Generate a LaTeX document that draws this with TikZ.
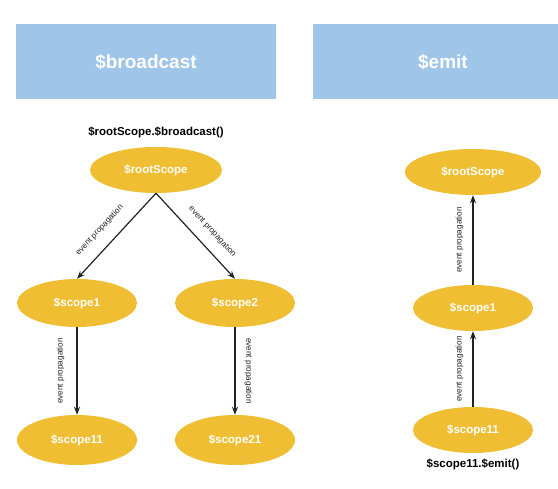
\documentclass[tikz,border=0pt]{standalone}
\usepackage{fontspec}
\setmainfont{Liberation Sans}
\usetikzlibrary{shapes.geometric,arrows.meta}
\definecolor{hdrblue}{HTML}{9FC5E8}
\definecolor{gold}{HTML}{F0BE32}
\definecolor{linegray}{HTML}{222222}
\begin{document}
\begin{tikzpicture}[x=1pt,y=-1pt,
  header/.style={fill=hdrblue,draw=none,minimum width=#1,minimum height=75pt,inner sep=0pt},
  scopenode/.style={ellipse,fill=gold,draw=none,minimum width=120pt,minimum height=48pt,inner sep=0pt,
    text=white,font=\bfseries\fontsize{11.5}{13}\selectfont},
  titletext/.style={text=white,font=\bfseries\fontsize{19}{22}\selectfont},
  calltext/.style={text=black,font=\bfseries\fontsize{11.5}{13}\selectfont},
  prop/.style={font=\fontsize{8.2}{9}\selectfont,text=linegray,inner sep=0pt},
  arr/.style={draw=linegray,line width=1.2pt,-{Stealth[length=8pt,width=6pt]}}]
\useasboundingbox (0,0) rectangle (558,489);
% headers
\node[header=260pt] (hb) at (146,61.5) {};
\node[header=250pt] (he) at (438,61.5) {};
\node[titletext] (tb) at (146,62) {\$broadcast};
\node[titletext] (te) at (443,62) {\$emit};
% broadcast tree
\node[calltext] (cb) at (156,132) {\$rootScope.\$broadcast()};
\node[scopenode,minimum width=132pt,minimum height=46pt] (root) at (156,170) {\$rootScope};
\node[scopenode] (s1) at (77,303) {\$scope1};
\node[scopenode] (s2) at (235,303) {\$scope2};
\node[scopenode,minimum height=50pt] (s11) at (77,440) {\$scope11};
\node[scopenode,minimum height=50pt] (s21) at (235,440) {\$scope21};
\draw[arr] (root.south) -- node[prop,pos=0.56,sloped,above=12pt] {event propagation} (s1.north);
\draw[arr] (root.south) -- node[prop,pos=0.57,sloped,above=11pt] {event propagation} (s2.north);
\draw[arr] (s1.south) -- node[prop,midway,rotate=90,anchor=south,yshift=12pt] {event propagation} (s11.north);
\draw[arr] (s2.south) -- node[prop,midway,rotate=-90,anchor=south,yshift=9pt] {event propagation} (s21.north);
% emit chain
\node[scopenode,minimum width=136pt,minimum height=46pt] (er) at (473,172) {\$rootScope};
\node[scopenode,minimum height=46pt] (e1) at (473,308) {\$scope1};
\node[scopenode,minimum height=46pt] (e11) at (473,430) {\$scope11};
\node[calltext] (ce) at (473,464) {\$scope11.\$emit()};
\draw[arr] (e1.north) -- node[prop,midway,rotate=90,anchor=south,yshift=9pt] {event propagation} (er.south);
\draw[arr] (e11.north) -- node[prop,midway,rotate=90,anchor=south,yshift=9pt] {event propagation} (e1.south);
\end{tikzpicture}
\end{document}
